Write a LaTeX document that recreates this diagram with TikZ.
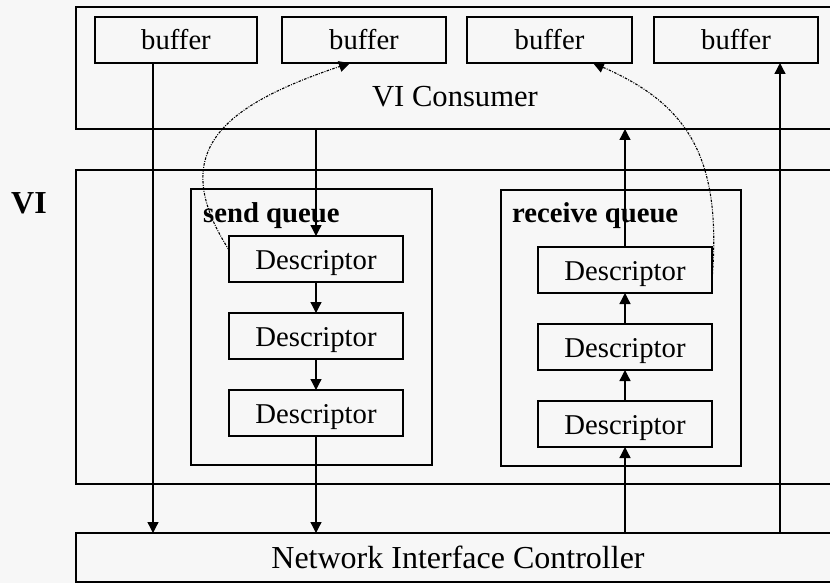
\documentclass[tikz,border=0pt]{standalone}
\usepackage{fontspec}
\setmainfont{Liberation Serif}
\usetikzlibrary{arrows.meta}
\begin{document}
\begin{tikzpicture}[x=1pt,y=-1pt,
  frame/.style={draw, line width=1.3pt, inner sep=0pt, outer sep=0pt},
  txt/.style={font=\fontsize{28.7}{30}\selectfont},
  bufbox/.style={frame, txt, minimum height=46pt, text height=20pt, text depth=0pt},
  descbox/.style={frame, txt, minimum width=174pt, minimum height=46pt, text height=20pt, text depth=0pt},
  flow/.style={line width=1.3pt, -{Triangle[width=11pt,length=11pt]}},
  link/.style={line width=1.1pt, dash pattern=on 2.5pt off 1.3pt on 0.9pt off 1.3pt,
               -{Triangle[width=11pt,length=11pt]}},
  qlabel/.style={anchor=base west, inner sep=0pt, font=\bfseries\fontsize{28.7}{30}\selectfont}
]
\useasboundingbox (0,0) rectangle (830,583);
\fill[white!97!black] (0,0) rectangle (830,583);
\clip (0,0) rectangle (830,583);

% outer layers (they run on past the right edge)
\node[frame, minimum width=764pt, minimum height=122pt] (cons) at (458,68) {};
\node[frame, minimum width=764pt, minimum height=314pt] (vi) at (458,327) {};
\node[frame, minimum width=764pt, minimum height=49pt, text height=22pt, text depth=0pt,
      font=\fontsize{32}{34}\selectfont] (nic) at (458,557.5) {Network Interface Controller};

\node[txt, font=\fontsize{30.6}{32}\selectfont, inner sep=0pt] (constext) at (455,97) {VI Consumer};
\node[inner sep=0pt, font=\bfseries\fontsize{32}{34}\selectfont] (vilabel) at (29,203) {VI};

% buffers
\node[bufbox, minimum width=162pt] (b1) at (176,40) {buffer};
\node[bufbox, minimum width=164pt] (b2) at (364,40) {buffer};
\node[bufbox, minimum width=165pt] (b3) at (549.5,40) {buffer};
\node[bufbox, minimum width=164pt] (b4) at (736,40) {buffer};

% queues
\node[frame, minimum width=241pt, minimum height=276pt] (sq) at (311.5,327) {};
\node[frame, minimum width=240pt, minimum height=276pt] (rq) at (621,328) {};
\node[qlabel] (sqlabel) at (203,222) {send queue};
\node[qlabel] (rqlabel) at (512,222) {receive queue};

% descriptors
\node[descbox] (sd1) at (316,259) {Descriptor};
\node[descbox] (sd2) at (316,336) {Descriptor};
\node[descbox] (sd3) at (316,413) {Descriptor};
\node[descbox] (rd1) at (625,270) {Descriptor};
\node[descbox] (rd2) at (625,347) {Descriptor};
\node[descbox] (rd3) at (625,424) {Descriptor};

% direct paths between buffers and the controller
\coordinate (lcol) at (153,0);
\coordinate (rcol) at (780,0);
\draw[flow] (lcol |- b1.south) -- (lcol |- nic.north);
\draw[flow] (rcol |- nic.north) -- (rcol |- b4.south);

% send path
\draw[flow] (sd1.north |- cons.south) -- (sd1.north);
\draw[flow] (sd1.south) -- (sd2.north);
\draw[flow] (sd2.south) -- (sd3.north);
\draw[flow] (sd3.south) -- (sd3.south |- nic.north);

% receive path
\draw[flow] (rd3.south |- nic.north) -- (rd3.south);
\draw[flow] (rd3.north) -- (rd2.south);
\draw[flow] (rd2.north) -- (rd1.south);
\draw[flow] (rd1.north) -- (rd1.north |- cons.south);

% descriptor to buffer references
\coordinate (sdref) at (229,250);
\coordinate (b2ref) at (350,63);
\coordinate (rdref) at (712,280);
\coordinate (b3ref) at (593,63);
\draw[link] (sdref) .. controls (165,150) and (225,105) .. (b2ref);
\draw[link] (rdref) .. controls (722,160) and (690,105) .. (b3ref);
\end{tikzpicture}
\end{document}
